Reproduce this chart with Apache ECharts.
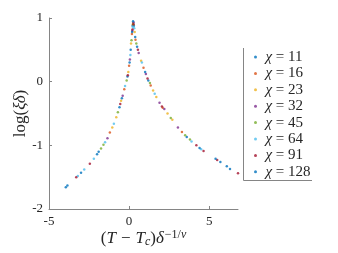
<!DOCTYPE html>
<html><head><meta charset="utf-8">
<script src="https://cdn.jsdelivr.net/npm/echarts@6/dist/echarts.min.js"></script>
<style>html,body{margin:0;padding:0;background:#fff}#c{width:338px;height:253px}</style>
</head><body><div id="c"></div>
<script>
const chis = [11, 16, 23, 32, 45, 64, 91, 128];
const colors = ['#0072BD','#D95319','#EDB120','#7E2F8E','#77AC30','#4DBEEE','#A2142F','#0072BD'];
const xTicks = [-5, 0, 5];
const yTicks = [-2, -1, 0, 1];
const s11 = [[-3.95,-1.66],[-2.0,-1.14],[-0.6,-0.4],[-0.1,0.08],[0.1,0.5],[0.22,0.88],[0.3,0.88],[0.5,0.55],[1.2,0.02],[3.6,-0.87],[5.7,-1.26]];
const s16 = [[-1.2,-0.8],[-0.3,-0.12],[0.0,0.25],[0.18,0.75],[0.25,0.92],[0.4,0.66],[0.9,0.22],[1.35,-0.06],[2.1,-0.41],[3.3,-0.79]];
const s23 = [[-1.05,-0.72],[-0.8,-0.56],[-0.5,-0.3],[-0.05,0.15],[0.12,0.6],[0.24,0.9],[0.35,0.78],[0.75,0.33],[1.5,-0.14],[1.7,-0.24],[2.4,-0.5],[2.7,-0.6]];
const s32 = [[-1.35,-0.89],[-0.4,-0.22],[0.05,0.35],[0.2,0.8],[0.28,0.93],[0.6,0.45],[1.05,0.12],[1.9,-0.33],[2.2,-0.43],[3.05,-0.72]];
const s45 = [[-1.6,-0.99],[-1.75,-1.05],[-0.7,-0.48],[-0.15,0.02],[0.15,0.65],[0.26,0.9],[0.45,0.6],[1.3,-0.02],[2.6,-0.57],[3.5,-0.84],[3.8,-0.91]];
const s64 = [[-3.2,-1.48],[-2.8,-1.38],[-2.2,-1.21],[-1.5,-0.95],[-0.95,-0.66],[-0.25,-0.07],[0.08,0.42],[0.23,0.86],[0.32,0.84],[0.8,0.3],[1.6,-0.19],[3.9,-0.94],[4.5,-1.06]];
const s91 = [[-3.3,-1.5],[-2.45,-1.29],[-0.55,-0.35],[-0.08,0.1],[0.21,0.82],[0.27,0.9],[0.55,0.5],[1.15,0.05],[2.05,-0.39],[4.2,-1.0],[4.65,-1.09],[5.5,-1.23],[6.8,-1.44]];
const s128 = [[-3.85,-1.63],[-3.0,-1.43],[-1.9,-1.1],[-0.45,-0.26],[0.03,0.3],[0.19,0.78],[0.25,0.95],[0.38,0.7],[1.0,0.15],[4.4,-1.04],[5.4,-1.21],[6.1,-1.33],[6.3,-1.37]];
const seriesData = [s11, s16, s23, s32, s45, s64, s91, s128];

const serif = 'Liberation Serif';
const axisCol = '#858585';
const txtCol = '#262626';
const nf = 17, sf = 12;
const chart = echarts.init(document.getElementById('c'), null, {renderer:'canvas'});
chart.setOption({
  animation: false,
  backgroundColor: '#fff',
  grid: {left: 49, top: 18, right: 100, bottom: 44, containLabel: false, outerBoundsMode: 'none'},
  xAxis: {
    type: 'value', min: -5, max: 6.8, interval: 5,
    splitLine: {show: false},
    axisLine: {show: true, onZero: false, lineStyle: {color: axisCol, width: 1}},
    axisTick: {show: true, inside: true, length: 3, customValues: xTicks, lineStyle: {color: axisCol}},
    axisLabel: {customValues: xTicks, color: txtCol, fontFamily: serif, fontSize: 13, margin: 6},
    name: '{n|(}{i|T}{m|−}{i|T}{sub|c}{n|)}{i|δ}{sup|−1/}{supi|ν}',
    nameLocation: 'middle', nameGap: 20, nameMoveOverlap: false,
    nameTextStyle: {
      color: txtCol, fontFamily: serif, fontSize: nf,
      rich: {
        n: {fontFamily: serif, fontSize: nf, color: txtCol},
        m: {fontFamily: serif, fontSize: nf, color: txtCol, padding: [0, 5, 0, 5]},
        i: {fontFamily: serif, fontSize: nf, fontStyle: 'italic', color: txtCol},
        sub: {fontFamily: serif, fontSize: sf, fontStyle: 'italic', color: txtCol, verticalAlign: 'bottom', padding: [7,0,0,0]},
        sup: {fontFamily: serif, fontSize: sf, color: txtCol, verticalAlign: 'top', padding: [0,0,7,1]},
        supi: {fontFamily: serif, fontSize: sf, fontStyle: 'italic', color: txtCol, verticalAlign: 'top', padding: [0,0,7,0]}
      }
    }
  },
  yAxis: {
    type: 'value', min: -2, max: 1, interval: 1,
    splitLine: {show: false},
    axisLine: {show: true, onZero: false, lineStyle: {color: axisCol, width: 1}},
    axisTick: {show: true, inside: true, length: 3, lineStyle: {color: axisCol}},
    axisLabel: {color: txtCol, fontFamily: serif, fontSize: 13, margin: 6},
    name: '{n|log(}{i|ξδ}{n|)}',
    nameLocation: 'middle', nameGap: 20, nameRotate: 90, nameMoveOverlap: false,
    nameTextStyle: {
      color: txtCol, fontFamily: serif, fontSize: nf,
      rich: {
        n: {fontFamily: serif, fontSize: nf, color: txtCol},
        i: {fontFamily: serif, fontSize: nf, fontStyle: 'italic', color: txtCol}
      }
    }
  },
  legend: {
    orient: 'vertical', left: 254, top: 49,
    itemWidth: 10, itemHeight: 3, itemGap: 0.4, icon: 'circle',
    padding: 0,
    formatter: name => '{i|χ}{n| = ' + name.split('= ')[1] + '}',
    textStyle: {
      color: txtCol, fontFamily: serif, fontSize: 15, lineHeight: 16,
      rich: {
        i: {fontFamily: serif, fontSize: 15, fontStyle: 'italic', color: txtCol, lineHeight: 16},
        n: {fontFamily: serif, fontSize: 15, color: txtCol, lineHeight: 16}
      }
    },
    data: chis.map(c => 'χ = ' + c)
  },
  graphic: [
    {type: 'line', shape: {x1: 243.5, y1: 48, x2: 243.5, y2: 180.5}, style: {stroke: axisCol, lineWidth: 1}, silent: true},
    {type: 'line', shape: {x1: 243.5, y1: 180.5, x2: 312, y2: 180.5}, style: {stroke: axisCol, lineWidth: 1}, silent: true}
  ],
  series: chis.map((c, k) => ({
    name: 'χ = ' + c,
    type: 'scatter',
    symbol: 'circle',
    symbolSize: 2.5,
    itemStyle: {color: colors[k]},
    data: seriesData[k]
  }))
});
</script></body></html>
